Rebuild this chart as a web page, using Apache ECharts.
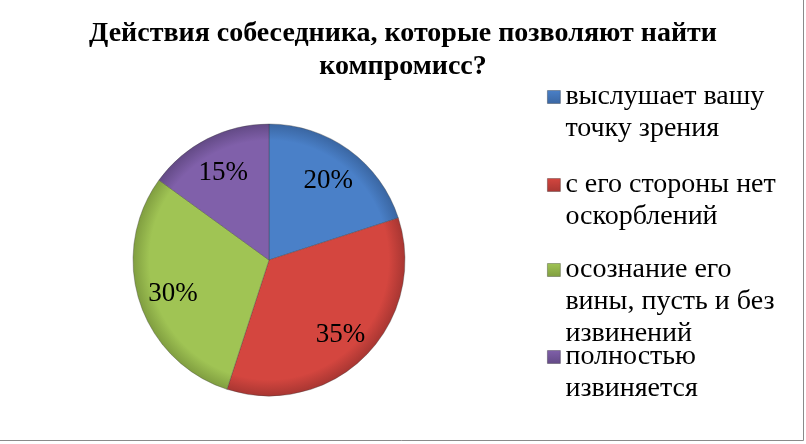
<!DOCTYPE html>
<html>
<head>
<meta charset="utf-8">
<script src="https://cdn.jsdelivr.net/npm/echarts@6/dist/echarts.min.js"></script>
<style>html,body{margin:0;padding:0;background:#fff}#c{width:806px;height:444px}</style>
</head>
<body>
<div id="c"></div>
<script>
const titleText = 'Действия собеседника, которые позволяют найти\nкомпромисс?';
const categories = [
  'выслушает вашу\nточку зрения',
  'с его стороны нет\nоскорблений',
  'осознание его\nвины, пусть и без\nизвинений',
  'полностью\nизвиняется'
];
const values = [20, 35, 30, 15];
const colorsMain = ['#4A80C8', '#D4463F', '#A0C454', '#8060AA'];
const colorsEdge = ['#3A66A2', '#A83632', '#809E40', '#634A86'];
const legendTops = [49, 137, 190, 309];

const FONT = 'Liberation Serif';
const LH = 32;
const CX = 269, CY = 260, R = 136;

const chart = echarts.init(document.getElementById('c'));

function grad(i) {
  return new echarts.graphic.RadialGradient(CX, CY, R, [
    { offset: 0, color: colorsMain[i] },
    { offset: 0.88, color: colorsMain[i] },
    { offset: 1, color: colorsEdge[i] }
  ], true);
}
function flat(i) {
  return new echarts.graphic.LinearGradient(0, 0, 0, 1, [
    { offset: 0, color: colorsMain[i] },
    { offset: 1, color: colorsEdge[i] }
  ]);
}

const mainData = categories.map((n, i) => ({
  name: n, value: values[i],
  itemStyle: { color: grad(i) }
}));
const labelData = categories.map((n, i) => ({ name: n, value: values[i] }));

const legends = categories.map((n, i) => {
  const lines = n.split('\n').length;
  return {
    orient: 'vertical',
    left: 547,
    top: legendTops[i],
    padding: 0,
    itemWidth: 13,
    itemHeight: 13,
    itemGap: 0,
    icon: 'rect',
    selectedMode: false,
    formatter: name => '\n'.repeat(lines - 1) + name,
    data: [{ name: n, itemStyle: { color: flat(i), borderColor: 'rgba(0,0,0,0.35)', borderWidth: 0.8 } }],
    textStyle: {
      fontFamily: FONT, fontSize: 28, color: '#000',
      lineHeight: LH
    }
  };
});

chart.setOption({
  animation: false,
  title: {
    text: titleText,
    left: 'center',
    top: 17,
    padding: 0,
    textStyle: { fontFamily: FONT, fontSize: 28, fontWeight: 'bold', color: '#000', lineHeight: 33 }
  },
  legend: legends,
  graphic: [{
    type: 'rect',
    shape: { x: -1, y: -1, width: 804.5, height: 441.5 },
    style: { fill: null, stroke: '#8a8a8a', lineWidth: 1 },
    silent: true
  }],
  series: [
    {
      type: 'pie',
      center: [CX, CY],
      radius: [0, R],
      startAngle: 90,
      clockwise: true,
      label: { show: false },
      labelLine: { show: false },
      itemStyle: { borderColor: 'rgba(60,60,60,0.35)', borderWidth: 1 },
      emphasis: { disabled: true },
      data: mainData
    },
    {
      type: 'pie',
      center: [CX, CY + 3],
      radius: [0, 196],
      startAngle: 90,
      clockwise: true,
      silent: true,
      itemStyle: { color: 'rgba(0,0,0,0)' },
      label: {
        show: true,
        position: 'inside',
        formatter: '{c}%',
        fontFamily: FONT, fontSize: 27, color: '#000'
      },
      labelLine: { show: false },
      emphasis: { disabled: true },
      data: labelData
    }
  ]
});
</script>
</body>
</html>
